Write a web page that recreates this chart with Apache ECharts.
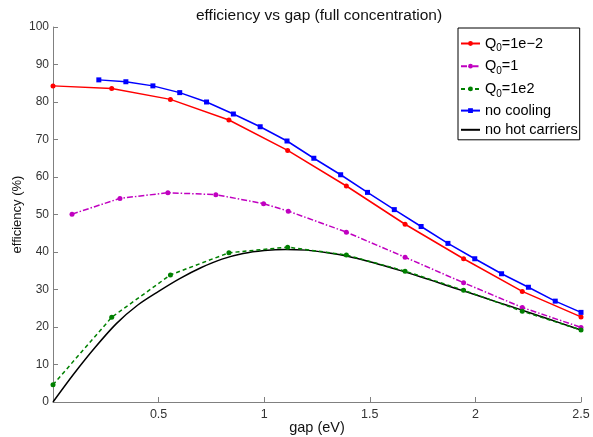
<!DOCTYPE html>
<html>
<head>
<meta charset="utf-8">
<script src="https://cdn.jsdelivr.net/npm/echarts@6/dist/echarts.min.js"></script>
<style>html,body{margin:0;padding:0;background:#fff;}#c{width:593px;height:437px;}</style>
</head>
<body>
<div id="c"></div>
<script>
// Q0 = 1e-2
var redX = [0, 0.278, 0.556, 0.833, 1.111, 1.389, 1.667, 1.944, 2.222, 2.5];
var redY = [84.3, 83.6, 80.7, 75.2, 67.1, 57.6, 47.4, 38.2, 29.5, 22.7];
// Q0 = 1
var magX = [0.09, 0.317, 0.544, 0.771, 0.997, 1.114, 1.389, 1.667, 1.944, 2.222, 2.5];
var magY = [50.1, 54.3, 55.8, 55.3, 52.9, 50.9, 45.3, 38.6, 31.8, 25.2, 19.9];
// Q0 = 1e2
var grnX = [0, 0.278, 0.556, 0.833, 1.111, 1.389, 1.667, 1.944, 2.222, 2.5];
var grnY = [4.6, 22.6, 33.9, 39.8, 41.3, 39.2, 34.9, 29.8, 24.2, 19.2];
// no cooling
var bluX = [0.217, 0.345, 0.473, 0.600, 0.727, 0.854, 0.981, 1.108, 1.235, 1.362, 1.489, 1.616, 1.743, 1.870, 1.997, 2.124, 2.251, 2.378, 2.5];
var bluY = [85.9, 85.4, 84.3, 82.5, 80.0, 76.8, 73.4, 69.6, 65.0, 60.6, 55.9, 51.3, 46.8, 42.3, 38.2, 34.2, 30.6, 26.9, 23.9];
// no hot carriers
var blkX = [0, 0.1, 0.2, 0.3, 0.4, 0.5, 0.6, 0.7, 0.8, 0.9, 1.0, 1.1, 1.2, 1.3, 1.4, 1.5, 1.6, 1.7, 1.8, 1.9, 2.0, 2.1, 2.2, 2.3, 2.4, 2.5];
var blkY = [0, 7.6, 14.6, 20.9, 25.8, 29.5, 32.9, 35.8, 38.1, 39.6, 40.4, 40.7, 40.5, 39.8, 38.8, 37.4, 35.8, 34.1, 32.3, 30.4, 28.6, 26.7, 24.9, 23.0, 21.1, 19.2];

var names = ['Q0=1e-2', 'Q0=1', 'Q0=1e2', 'no cooling', 'no hot carriers'];
var legendLabels = {
  'Q0=1e-2': '{a|Q}{s|0}{a|=1e\u22122}',
  'Q0=1': '{a|Q}{s|0}{a|=1}',
  'Q0=1e2': '{a|Q}{s|0}{a|=1e2}',
  'no cooling': '{b|no cooling}',
  'no hot carriers': '{c|no hot carriers}'
};
function pairs(xs, ys) { return xs.map(function (x, i) { return [x, ys[i]]; }); }

var chart = echarts.init(document.getElementById('c'), null, {renderer: 'canvas'});
var font = 'Liberation Sans, Arial, sans-serif';
chart.setOption({
  animation: false,
  backgroundColor: '#fff',
  title: {
    text: 'efficiency vs gap (full concentration)',
    left: 314, top: 3, textAlign: 'center',
    textStyle: {fontFamily: font, fontSize: 15.5, fontWeight: 'normal', color: '#111'}
  },
  grid: {left: 53, right: 12, top: 27, bottom: 35, outerBoundsMode: 'none', containLabel: false},
  legend: {
    orient: 'vertical',
    left: 458, top: 28,
    padding: [5.5, 2, 2.5, 2],
    itemGap: 2.7,
    itemWidth: 19, itemHeight: 6,
    borderColor: '#000', borderWidth: 1,
    backgroundColor: '#fff',
    data: names.map(function (n) {
      return n === 'no hot carriers' ? {name: n, itemStyle: {opacity: 0}} : {name: n};
    }),
    formatter: function (n) { return legendLabels[n]; },
    textStyle: {
      fontFamily: font, fontSize: 14.5, color: '#000',
      rich: {
        a: {fontFamily: font, fontSize: 14.5, color: '#000', lineHeight: 23},
        s: {fontFamily: font, fontSize: 10, color: '#000', padding: [10, 0, 0, 0], lineHeight: 23},
        b: {fontFamily: font, fontSize: 14.5, color: '#000', lineHeight: 15, padding: [2, 0, 1, 0]},
        c: {fontFamily: font, fontSize: 14.5, color: '#000', lineHeight: 8, padding: [0, 0, 0, 0]}
      }
    }
  },
  xAxis: {
    type: 'value', min: 0, max: 2.5, interval: 0.5,
    name: 'gap (eV)', nameLocation: 'middle', nameGap: 18, nameMoveOverlap: false,
    nameTextStyle: {fontFamily: font, fontSize: 14.5, color: '#111'},
    axisLine: {show: true, onZero: false, lineStyle: {color: '#808080', width: 1}},
    axisTick: {show: true, inside: true, length: 5, lineStyle: {color: '#808080'}},
    splitLine: {show: false},
    axisLabel: {
      fontFamily: font, fontSize: 12.5, color: '#333', margin: 6,
      formatter: function (v) { return v === 0 ? '' : String(v); }
    }
  },
  yAxis: {
    type: 'value', min: 0, max: 100, interval: 10,
    name: 'efficiency (%)', nameLocation: 'middle', nameGap: 29, nameMoveOverlap: false,
    nameTextStyle: {fontFamily: font, fontSize: 13, color: '#111'},
    axisLine: {show: true, lineStyle: {color: '#808080', width: 1}},
    axisTick: {show: true, inside: true, length: 5, lineStyle: {color: '#808080'}},
    splitLine: {show: false},
    axisLabel: {fontFamily: font, fontSize: 12, color: '#333', margin: 4}
  },
  series: [
    {
      name: names[0], type: 'line', data: pairs(redX, redY),
      symbol: 'circle', symbolSize: 5,
      lineStyle: {color: '#ff0000', width: 1.5},
      itemStyle: {color: '#ff0000'}, z: 3
    },
    {
      name: names[1], type: 'line', data: pairs(magX, magY),
      symbol: 'circle', symbolSize: 5,
      lineStyle: {color: '#c000c0', width: 1.5, type: [6, 2, 1.5, 2]},
      itemStyle: {color: '#c000c0'}, z: 3
    },
    {
      name: names[2], type: 'line', data: pairs(grnX, grnY),
      symbol: 'circle', symbolSize: 5,
      lineStyle: {color: '#008000', width: 1.5, type: [4, 3]},
      itemStyle: {color: '#008000'}, z: 4
    },
    {
      name: names[3], type: 'line', data: pairs(bluX, bluY),
      symbol: 'rect', symbolSize: 5,
      lineStyle: {color: '#0000ff', width: 1.5},
      itemStyle: {color: '#0000ff'}, z: 3
    },
    {
      name: names[4], type: 'line', data: pairs(blkX, blkY),
      symbol: 'none', smooth: 0.3,
      lineStyle: {color: '#000000', width: 1.5},
      itemStyle: {color: '#000000'}, z: 2
    }
  ]
});
</script>
</body>
</html>
